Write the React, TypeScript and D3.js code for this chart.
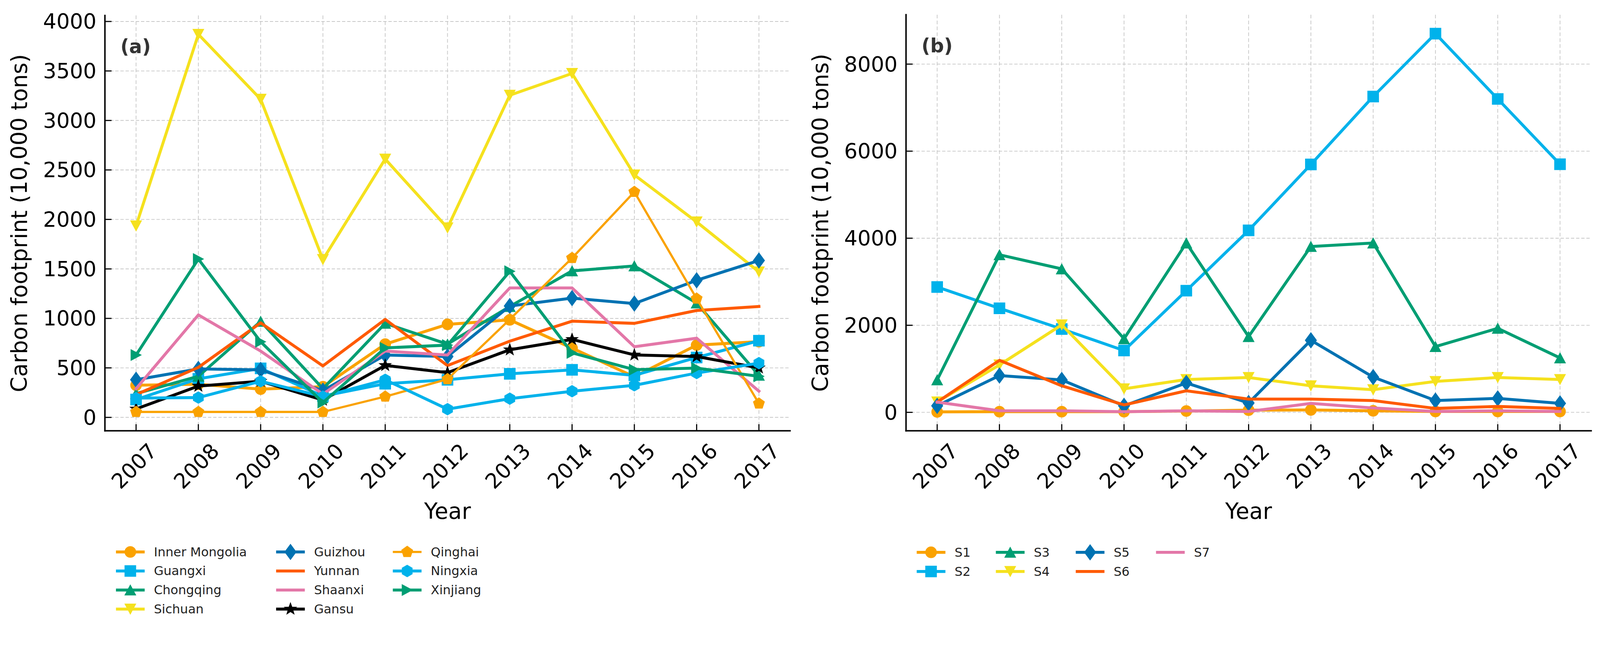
import { useEffect, useRef } from 'react';
import * as d3 from 'd3';

// ---- data ----
const years = [2007, 2008, 2009, 2010, 2011, 2012, 2013, 2014, 2015, 2016, 2017];

const yTicksA = [0, 500, 1000, 1500, 2000, 2500, 3000, 3500, 4000];
const yTicksB = [0, 2000, 4000, 6000, 8000];

// panel (a): provinces
const innerMongolia = [325, 335, 285, 310, 740, 940, 985, 700, 410, 730, 765];
const guangxi = [180, 390, 495, 215, 340, 380, 440, 480, 425, 605, 775];
const chongqing = [240, 415, 970, 290, 950, 740, 1120, 1480, 1530, 1155, 425];
const sichuan = [1935, 3870, 3215, 1595, 2610, 1915, 3255, 3475, 2450, 1975, 1470];
const guizhou = [380, 490, 480, 270, 630, 615, 1125, 1205, 1150, 1385, 1585];
const yunnan = [230, 505, 955, 520, 990, 523, 770, 972, 950, 1080, 1120];
const shaanxi = [290, 1035, 670, 235, 670, 630, 1308, 1308, 714, 800, 265];
const gansu = [85, 316, 365, 175, 525, 452, 683, 788, 631, 615, 500];
const qinghai = [55, 55, 55, 55, 210, 386, 990, 1610, 2278, 1200, 140];
const ningxia = [195, 200, 365, 210, 380, 83, 189, 264, 324, 448, 548];
const xinjiang = [630, 1600, 764, 150, 702, 730, 1476, 652, 482, 498, 415];

// panel (b): S1..S7
const s1 = [10, 15, 15, 15, 30, 50, 55, 35, 20, 20, 20];
const s2 = [2880, 2390, 1915, 1420, 2795, 4180, 5695, 7255, 8700, 7200, 5700];
const s3 = [745, 3620, 3295, 1690, 3890, 1740, 3810, 3890, 1510, 1930, 1250];
const s4 = [240, 1090, 2010, 540, 755, 800, 610, 520, 710, 800, 755];
const s5 = [150, 845, 745, 150, 675, 215, 1655, 810, 270, 320, 205];
const s6 = [235, 1195, 610, 170, 495, 305, 305, 270, 90, 135, 90];
const s7 = [235, 35, 35, 15, 35, 20, 205, 100, 20, 35, 20];

// ---- styles ----
const C = {
  orange: '#FAA200',
  sky: '#00B2EB',
  green: '#009E73',
  yellow: '#F5E11E',
  blue: '#0072B2',
  vermilion: '#FF5A00',
  pink: '#E377A8',
  black: '#000000',
};

const W = 4346;
const H = 1697;
const FONT = "'DejaVu Sans', 'Liberation Sans', sans-serif";
const LW = 8;

type Series = { name: string; values: number[]; color: string; marker: string | null; width: number };

const seriesA: Series[] = [
  { name: 'Inner Mongolia', values: innerMongolia, color: C.orange, marker: 'circle', width: LW },
  { name: 'Guangxi', values: guangxi, color: C.sky, marker: 'square', width: LW },
  { name: 'Chongqing', values: chongqing, color: C.green, marker: 'triUp', width: LW },
  { name: 'Sichuan', values: sichuan, color: C.yellow, marker: 'triDown', width: LW },
  { name: 'Guizhou', values: guizhou, color: C.blue, marker: 'diamond', width: LW },
  { name: 'Yunnan', values: yunnan, color: C.vermilion, marker: null, width: LW },
  { name: 'Shaanxi', values: shaanxi, color: C.pink, marker: null, width: LW },
  { name: 'Gansu', values: gansu, color: C.black, marker: 'star', width: LW },
  { name: 'Qinghai', values: qinghai, color: C.orange, marker: 'pentagon', width: 6 },
  { name: 'Ningxia', values: ningxia, color: C.sky, marker: 'hexagon', width: LW },
  { name: 'Xinjiang', values: xinjiang, color: C.green, marker: 'triRight', width: LW },
];

const seriesB: Series[] = [
  { name: 'S1', values: s1, color: C.orange, marker: 'circle', width: LW },
  { name: 'S2', values: s2, color: C.sky, marker: 'square', width: LW },
  { name: 'S3', values: s3, color: C.green, marker: 'triUp', width: LW },
  { name: 'S4', values: s4, color: C.yellow, marker: 'triDown', width: LW },
  { name: 'S5', values: s5, color: C.blue, marker: 'diamond', width: LW },
  { name: 'S6', values: s6, color: C.vermilion, marker: null, width: LW },
  { name: 'S7', values: s7, color: C.pink, marker: null, width: LW },
];

// regular polygon / star outlines centred on 0,0
function polygon(n: number, r: number, inner?: number) {
  const pts: string[] = [];
  const steps = inner ? n * 2 : n;
  for (let i = 0; i < steps; i++) {
    const a = -Math.PI / 2 + (i * 2 * Math.PI) / steps;
    const rr = inner && i % 2 === 1 ? inner : r;
    pts.push(`${(rr * Math.cos(a)).toFixed(2)},${(rr * Math.sin(a)).toFixed(2)}`);
  }
  return 'M' + pts.join('L') + 'Z';
}

function markerPath(kind: string) {
  switch (kind) {
    case 'circle': return 'M15,0A15,15 0 1,1 -15,0A15,15 0 1,1 15,0Z';
    case 'square': return 'M-15,-15H15V15H-15Z';
    case 'triUp': return 'M0,-14L15,14L-15,14Z';
    case 'triDown': return 'M0,14L15,-14L-15,-14Z';
    case 'triRight': return 'M14,0L-14,-15L-14,15Z';
    case 'diamond': return 'M0,-21L15.5,0L0,21L-15.5,0Z';
    case 'star': return polygon(5, 17, 7);
    case 'pentagon': return polygon(5, 16);
    case 'hexagon': return polygon(6, 16);
    default: return '';
  }
}

interface PanelCfg {
  left: number; right: number; top: number; bottom: number;
  series: Series[];
  yTicks: number[];
  label: string;
  legendCols: number[];
  legendRows: number;
  legendTop: number;
  legendStep: number;
}

function drawPanel(svg: d3.Selection<SVGSVGElement, unknown, null, undefined>, cfg: PanelCfg) {
  const { left, right, top, bottom } = cfg;
  const g = svg.append('g');

  const x = d3.scaleLinear()
    .domain([years[0] - 0.5, years[years.length - 1] + 0.5])
    .range([left, right]);

  const all = cfg.series.flatMap(s => s.values);
  const lo = d3.min(all) as number;
  const hi = d3.max(all) as number;
  const pad = (hi - lo) * 0.05;
  const y = d3.scaleLinear().domain([lo - pad, hi + pad]).range([bottom, top]);

  // grid
  g.selectAll('line.gx').data(years).join('line')
    .attr('x1', d => x(d)).attr('x2', d => x(d))
    .attr('y1', top).attr('y2', bottom)
    .attr('stroke', '#c8c8c8').attr('stroke-width', 2).attr('stroke-dasharray', '10,6');
  g.selectAll('line.gy').data(cfg.yTicks).join('line')
    .attr('x1', left).attr('x2', right)
    .attr('y1', d => y(d)).attr('y2', d => y(d))
    .attr('stroke', '#c8c8c8').attr('stroke-width', 2).attr('stroke-dasharray', '9,5');

  // series
  const line = d3.line<number>().x((_, i) => x(years[i])).y(d => y(d));
  cfg.series.forEach(s => {
    const sg = g.append('g');
    sg.append('path')
      .attr('d', line(s.values))
      .attr('fill', 'none')
      .attr('stroke', s.color)
      .attr('stroke-width', s.width)
      .attr('stroke-linejoin', 'round')
      .attr('stroke-linecap', 'square');
    if (s.marker) {
      sg.selectAll('path.m').data(s.values).join('path')
        .attr('class', 'm')
        .attr('transform', (d, i) => `translate(${x(years[i])},${y(d)})`)
        .attr('d', markerPath(s.marker))
        .attr('fill', s.color)
        .attr('stroke', s.color)
        .attr('stroke-width', 1.5);
    }
  });

  // spines
  g.append('line').attr('x1', left).attr('x2', left).attr('y1', top).attr('y2', bottom)
    .attr('stroke', '#000').attr('stroke-width', 4).attr('stroke-linecap', 'square');
  g.append('line').attr('x1', left).attr('x2', right).attr('y1', bottom).attr('y2', bottom)
    .attr('stroke', '#000').attr('stroke-width', 4).attr('stroke-linecap', 'square');

  // ticks (pointing inward)
  g.selectAll('line.tx').data(years).join('line')
    .attr('x1', d => x(d)).attr('x2', d => x(d))
    .attr('y1', bottom).attr('y2', bottom - 18)
    .attr('stroke', '#000').attr('stroke-width', 3);
  g.selectAll('line.ty').data(cfg.yTicks).join('line')
    .attr('x1', left).attr('x2', left + 18)
    .attr('y1', d => y(d)).attr('y2', d => y(d))
    .attr('stroke', '#000').attr('stroke-width', 3);

  // tick labels
  g.selectAll('text.yl').data(cfg.yTicks).join('text')
    .attr('x', left - 23).attr('y', d => y(d))
    .attr('text-anchor', 'end').attr('dominant-baseline', 'central')
    .style('font-family', FONT).style('font-size', '57px').attr('fill', '#000')
    .text(d => String(d));
  g.selectAll('text.xl').data(years).join('text')
    .attr('transform', d => `translate(${x(d) - 5},${bottom + 96}) rotate(-45)`)
    .attr('text-anchor', 'middle').attr('dominant-baseline', 'central')
    .style('font-family', FONT).style('font-size', '57px').attr('fill', '#000')
    .text(d => String(d));

  // axis labels
  g.append('text')
    .attr('x', (left + right) / 2).attr('y', bottom + 239)
    .attr('text-anchor', 'middle')
    .style('font-family', FONT).style('font-size', '60px').attr('fill', '#000')
    .text('Year');
  g.append('text')
    .attr('transform', `translate(${left - 212},${(top + bottom) / 2}) rotate(-90)`)
    .attr('text-anchor', 'middle')
    .style('font-family', FONT).style('font-size', '60px').attr('fill', '#000')
    .text('Carbon footprint (10,000 tons)');

  // panel tag
  g.append('text')
    .attr('x', left + 42).attr('y', top + 102)
    .style('font-family', FONT).style('font-size', '52px').style('font-weight', 'bold')
    .attr('fill', '#333')
    .text(cfg.label);

  // legend, filled column by column
  const lg = g.append('g');
  cfg.series.forEach((s, i) => {
    const col = Math.floor(i / cfg.legendRows);
    const row = i % cfg.legendRows;
    const lx = cfg.legendCols[col];
    const ly = cfg.legendTop + row * cfg.legendStep;
    lg.append('line')
      .attr('x1', lx).attr('x2', lx + 78).attr('y1', ly).attr('y2', ly)
      .attr('stroke', s.color).attr('stroke-width', s.width);
    if (s.marker) {
      lg.append('path')
        .attr('transform', `translate(${lx + 39},${ly})`)
        .attr('d', markerPath(s.marker))
        .attr('fill', s.color).attr('stroke', s.color).attr('stroke-width', 1.5);
    }
    lg.append('text')
      .attr('x', lx + 103).attr('y', ly)
      .attr('dominant-baseline', 'central')
      .style('font-family', FONT).style('font-size', '34px').attr('fill', '#222')
      .text(s.name);
  });
}

export default function App() {
  const svgRef = useRef<SVGSVGElement>(null);

  useEffect(() => {
    document.body.style.margin = '0';
    document.body.style.overflow = 'hidden';
    const svg = d3.select(svgRef.current as SVGSVGElement);
    svg.selectAll('*').remove();

    drawPanel(svg, {
      left: 285, right: 2146, top: 42, bottom: 1170,
      series: seriesA, yTicks: yTicksA, label: '(a)',
      legendCols: [315, 750, 1067], legendRows: 4, legendTop: 1499, legendStep: 51.7,
    });
    drawPanel(svg, {
      left: 2461, right: 4322, top: 40, bottom: 1170,
      series: seriesB, yTicks: yTicksB, label: '(b)',
      legendCols: [2490, 2705, 2922, 3140], legendRows: 2, legendTop: 1500, legendStep: 52,
    });
  }, []);

  return (
    <svg
      ref={svgRef}
      viewBox={`0 0 ${W} ${H}`}
      preserveAspectRatio="xMinYMin meet"
      style={{ display: 'block', width: '100vw', height: '100vh', background: '#fff' }}
    />
  );
}
